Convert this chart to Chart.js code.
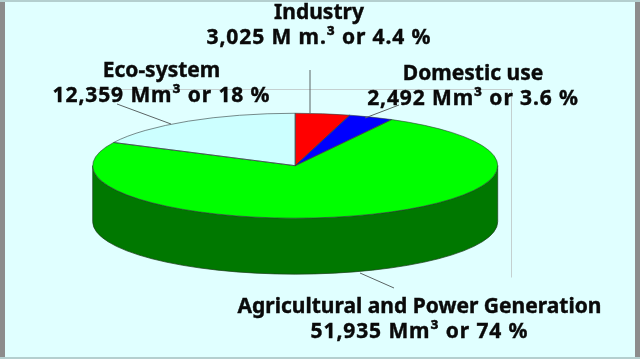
<!DOCTYPE html>
<html>
<head>
<meta charset="utf-8">
<style>
  html, body { margin: 0; padding: 0; background: #e0ffff; overflow: hidden; }
  #wrap { position: relative; width: 640px; height: 359px; }
  #frameL { position: absolute; left: 0; top: 0; width: 5px; height: 359px; background: #8c8c8c; }
  #frameR { position: absolute; left: 635px; top: 0; width: 5px; height: 359px; background: #8c8c8c; }
  #frameT { position: absolute; left: 0; top: 0; width: 640px; height: 2px; background: #b4cfcf; }
  #frameB { position: absolute; left: 0; top: 357px; width: 640px; height: 2px; background: #b4cfcf; }
</style>
</head>
<body>
<div id="wrap">
  <canvas id="pie" width="640" height="359"></canvas>
  <div id="frameL"></div><div id="frameR"></div><div id="frameT"></div><div id="frameB"></div>
</div>
<script src="https://cdn.jsdelivr.net/npm/chart.js@4"></script>
<script>
// water use by sector, Mm3
const categories = ['Industry', 'Domestic use', 'Agricultural and Power Generation', 'Eco-system'];
const values = [3025, 2492, 51935, 12359];
const valueLabels = ['3,025 M m.³ or 4.4 %', '2,492 Mm³ or 3.6 %', '51,935 Mm³ or 74 %', '12,359 Mm³ or 18 %'];
const sliceColors = ['#ff0000', '#0000ff', '#00ff00', '#ccffff'];
const wallColors = ['#800000', '#000080', '#007800', '#668080'];

// fake 3d look
const SQUASH = 0.259;
const DEPTH = 56;

// where each label sits: center x, first line y, then leader line
const labelSpots = [
  { x: 319, y: 13, line: [310, 70, 310, 113] },
  { x: 473, y: 74, line: [399, 105, 365, 118] },
  { x: 419.5, y: 307, line: [394, 288, 360, 273] },
  { x: 161.5, y: 71, line: [117, 104, 171, 124] }
];

function squash(ctx, cx, cy) {
  ctx.translate(cx, cy);
  ctx.scale(1, SQUASH);
  ctx.translate(-cx, -cy);
}

const pie3d = {
  id: 'pie3d',
  beforeDatasetsDraw(chart) {
    const ctx = chart.ctx;
    const arcs = chart.getDatasetMeta(0).data;

    // plot frame behind the pie
    ctx.save();
    ctx.strokeStyle = '#c4d0d0';
    ctx.lineWidth = 1;
    ctx.beginPath();
    ctx.moveTo(93.5, 89.5);
    ctx.lineTo(511.5, 89.5);
    ctx.lineTo(511.5, 277.5);
    ctx.stroke();
    ctx.restore();

    // side wall, only the part of each slice facing us
    arcs.forEach((arc, i) => {
      const p = arc.getProps(['x', 'y', 'startAngle', 'endAngle', 'outerRadius'], true);
      const from = Math.max(p.startAngle, 0);
      const to = Math.min(p.endAngle, Math.PI);
      if (to <= from) return;
      ctx.save();
      ctx.beginPath();
      ctx.ellipse(p.x, p.y, p.outerRadius, p.outerRadius * SQUASH, 0, from, to);
      ctx.ellipse(p.x, p.y + DEPTH, p.outerRadius, p.outerRadius * SQUASH, 0, to, from, true);
      ctx.closePath();
      ctx.fillStyle = wallColors[i];
      ctx.fill();
      ctx.strokeStyle = '#1c3c1c';
      ctx.lineWidth = 0.7;
      ctx.stroke();
      ctx.restore();
    });

    const first = arcs[0];
    ctx.save();
    squash(ctx, first.x, first.y);
  },
  afterDatasetsDraw(chart) {
    const ctx = chart.ctx;
    ctx.restore();

    // slice outlines, stroked after the squash so the pen stays even
    chart.getDatasetMeta(0).data.forEach(arc => {
      const p = arc.getProps(['x', 'y', 'startAngle', 'endAngle', 'outerRadius'], true);
      ctx.save();
      ctx.beginPath();
      ctx.moveTo(p.x, p.y);
      ctx.ellipse(p.x, p.y, p.outerRadius, p.outerRadius * SQUASH, 0, p.startAngle, p.endAngle);
      ctx.closePath();
      ctx.strokeStyle = 'rgba(50,60,60,0.75)';
      ctx.lineWidth = 0.8;
      ctx.stroke();
      ctx.restore();
    });

    ctx.save();
    ctx.strokeStyle = '#5a6464';
    ctx.lineWidth = 1;
    labelSpots.forEach(s => {
      ctx.beginPath();
      ctx.moveTo(s.line[0], s.line[1]);
      ctx.lineTo(s.line[2], s.line[3]);
      ctx.stroke();
    });
    ctx.fillStyle = '#0a0a0a';
    ctx.strokeStyle = '#0a0a0a';
    ctx.lineWidth = 0.4;
    ctx.font = 'bold 21px "Noto Sans"';
    ctx.textAlign = 'center';
    ctx.textBaseline = 'middle';
    categories.forEach((name, i) => {
      const s = labelSpots[i];
      ctx.letterSpacing = '0px';
      ctx.fillText(name, s.x, s.y);
      ctx.strokeText(name, s.x, s.y);
      // digits run wider in the reference font
      ctx.letterSpacing = '0.9px';
      ctx.fillText(valueLabels[i], s.x, s.y + 25);
      ctx.strokeText(valueLabels[i], s.x, s.y + 25);
    });
    ctx.restore();
  }
};

new Chart(document.getElementById('pie'), {
  type: 'pie',
  data: {
    labels: categories,
    datasets: [{
      data: values,
      backgroundColor: sliceColors,
      borderWidth: 0,
      radius: 202.5
    }]
  },
  options: {
    responsive: false,
    animation: false,
    layout: { padding: { left: 0, right: 49.6, top: 0, bottom: 27.6 } },
    plugins: { legend: { display: false }, tooltip: { enabled: false } }
  },
  plugins: [pie3d]
});
</script>
</body>
</html>
